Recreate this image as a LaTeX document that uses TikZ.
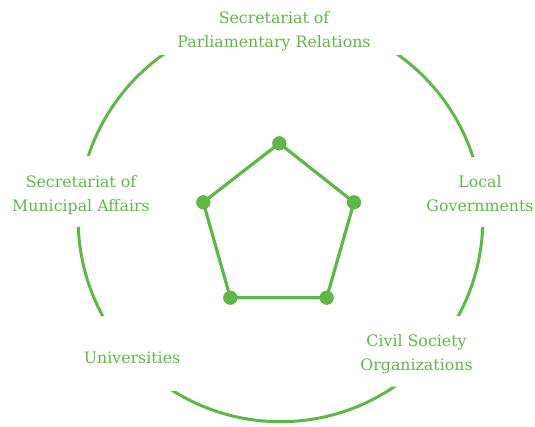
\documentclass[tikz,border=0pt]{standalone}
\usepackage{fontspec}
\setmainfont{DejaVu Serif}
\definecolor{leafgreen}{RGB}{94,184,71}
\begin{document}
\begin{tikzpicture}[x=1pt,y=-1pt,
  ring/.style={draw=leafgreen,line width=3pt},
  edge/.style={draw=leafgreen,line width=3.2pt},
  dot/.style={circle,fill=leafgreen,inner sep=0pt,minimum size=14pt},
  tag/.style={text=leafgreen,align=center,inner sep=0pt,
    font=\fontsize{15.8}{24}\selectfont}]
\useasboundingbox (0,0) rectangle (535,426);
% outer ring, cut away behind the five label areas
\coordinate (hub) at (280.5,219.4);
\begin{scope}[even odd rule]
  \clip (-20,-20) rectangle (555,446)
    (140,-10) rectangle (420,55)
    (0,156) rectangle (170,227)
    (420,157) rectangle (545,227)
    (60,316) rectangle (200,391)
    (350,316) rectangle (480,386.7);
  \draw[ring] (hub) circle[radius=202.3];
\end{scope}
% labels
\node[tag] (parl) at (274,31) {Secretariat of\\Parliamentary Relations};
\node[tag] (muni) at (81,194.8) {Secretariat of\\Municipal Affairs};
\node[tag] (local) at (480,194) {Local\\Governments};
\node[tag] (univ) at (132,357.5) {Universities};
\node[tag] (civil) at (416.5,354.5) {Civil Society\\Organizations};
% inner pentagon
\node[dot] (p1) at (279.3,143.3) {};
\node[dot] (p2) at (354,202.3) {};
\node[dot] (p3) at (326.7,297.7) {};
\node[dot] (p4) at (230.3,297.7) {};
\node[dot] (p5) at (203.3,202.3) {};
\draw[edge] (p1.center) -- (p2.center) -- (p3.center) -- (p4.center) -- (p5.center) -- cycle;
\foreach \v in {p1,p2,p3,p4,p5} \node[dot] at (\v) {};
\end{tikzpicture}
\end{document}
